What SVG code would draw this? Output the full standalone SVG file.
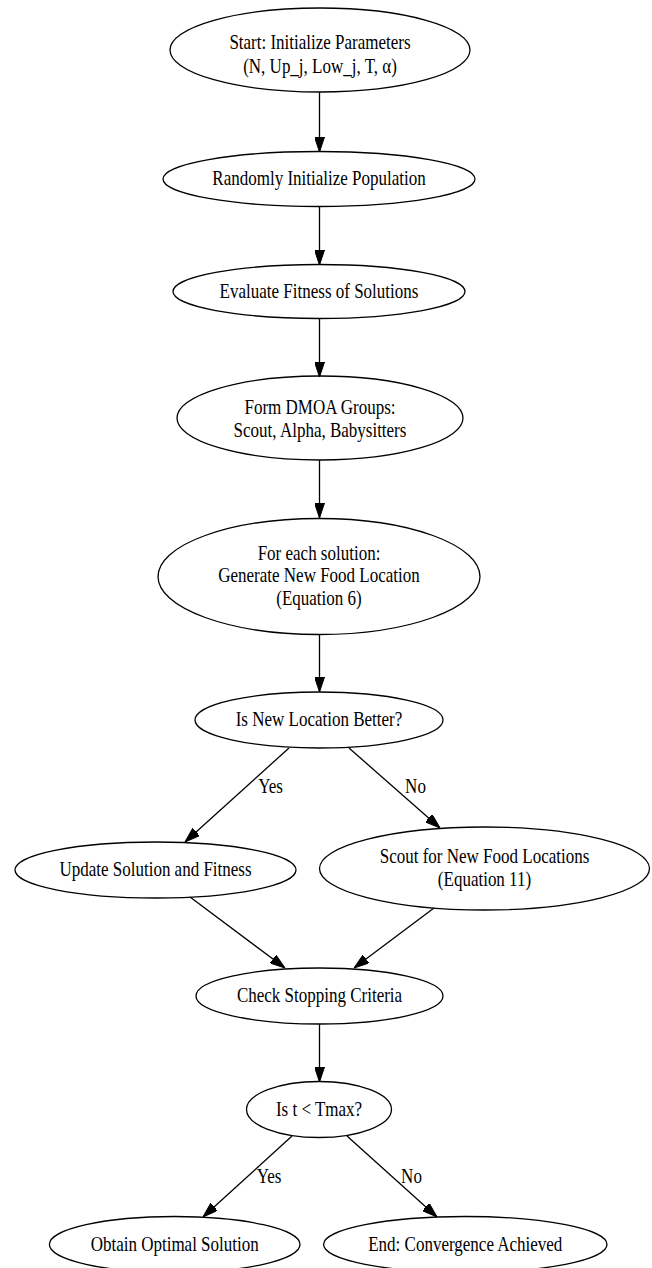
<svg xmlns="http://www.w3.org/2000/svg" width="652" height="1268" viewBox="0 0 652 1268">
<style>
.bg{fill:#fff}
.n ellipse{fill:none;stroke:#000;stroke-width:1.3}
.t{font-family:"Liberation Serif","Times New Roman",serif;font-size:21px;text-anchor:middle;fill:#000}
.e line{stroke:#000;stroke-width:1.3;marker-end:url(#ah)}
</style>
<defs>
<marker id="ah" viewBox="0 0 15 10" markerWidth="15" markerHeight="10" refX="15" refY="5" orient="auto" markerUnits="userSpaceOnUse">
<path d="M0,0 L15,5 L0,10 z" fill="#000" stroke="#000" stroke-width="1"/>
</marker>
</defs>
<rect class="bg" x="0" y="0" width="652" height="1268"/>
<g id="edges" class="e">
<line x1="319.5" y1="92" x2="319.5" y2="152"/>
<line x1="319.5" y1="207" x2="319.5" y2="265"/>
<line x1="319.5" y1="318" x2="319.5" y2="377"/>
<line x1="319.5" y1="460" x2="319.5" y2="518"/>
<line x1="319.5" y1="635" x2="319.5" y2="692"/>
<line x1="289" y1="748" x2="185" y2="842"/>
<line x1="349" y1="748" x2="440" y2="828"/>
<line x1="190" y1="897" x2="285" y2="968"/>
<line x1="434" y1="908" x2="354" y2="968"/>
<line x1="319.5" y1="1024" x2="319.5" y2="1082"/>
<line x1="292" y1="1136" x2="203" y2="1217"/>
<line x1="347" y1="1136" x2="437" y2="1217"/>
<text class="t" transform="translate(270.5,793) scale(0.81,1)">Yes</text>
<text class="t" transform="translate(415.5,793) scale(0.81,1)">No</text>
<text class="t" transform="translate(269,1183) scale(0.81,1)">Yes</text>
<text class="t" transform="translate(411.5,1183) scale(0.81,1)">No</text>
</g>
<g id="start" class="n">
<ellipse cx="320" cy="50" rx="150" ry="42"/>
<text class="t" transform="translate(320,49) scale(0.81,1)"><tspan x="0" y="0">Start: Initialize Parameters</tspan><tspan x="0" y="24">(N, Up_j, Low_j, T, α)</tspan></text>
</g>
<g id="init" class="n">
<ellipse cx="319" cy="179" rx="156" ry="27.5"/>
<text class="t" transform="translate(319,185) scale(0.81,1)">Randomly Initialize Population</text>
</g>
<g id="eval" class="n">
<ellipse cx="319" cy="291.5" rx="146" ry="27"/>
<text class="t" transform="translate(319,297.5) scale(0.81,1)">Evaluate Fitness of Solutions</text>
</g>
<g id="groups" class="n">
<ellipse cx="320" cy="418" rx="143" ry="42"/>
<text class="t" transform="translate(320,414) scale(0.81,1)"><tspan x="0" y="0">Form DMOA Groups:</tspan><tspan x="0" y="23">Scout, Alpha, Babysitters</tspan></text>
</g>
<g id="generate" class="n">
<ellipse cx="319" cy="576.5" rx="161" ry="58"/>
<text class="t" transform="translate(319,560) scale(0.81,1)"><tspan x="0" y="0">For each solution:</tspan><tspan x="0" y="22.5">Generate New Food Location</tspan><tspan x="0" y="45">(Equation 6)</tspan></text>
</g>
<g id="better" class="n">
<ellipse cx="319" cy="720" rx="124" ry="28"/>
<text class="t" transform="translate(319,726) scale(0.81,1)">Is New Location Better?</text>
</g>
<g id="update" class="n">
<ellipse cx="155.5" cy="870" rx="140.5" ry="28"/>
<text class="t" transform="translate(155.5,875.5) scale(0.81,1)">Update Solution and Fitness</text>
</g>
<g id="scout" class="n">
<ellipse cx="484.5" cy="868.5" rx="165" ry="41.5"/>
<text class="t" transform="translate(484.5,863) scale(0.81,1)"><tspan x="0" y="0">Scout for New Food Locations</tspan><tspan x="0" y="23.5">(Equation 11)</tspan></text>
</g>
<g id="check" class="n">
<ellipse cx="319.5" cy="996" rx="123.5" ry="28"/>
<text class="t" transform="translate(319.5,1002) scale(0.81,1)">Check Stopping Criteria</text>
</g>
<g id="tmax" class="n">
<ellipse cx="319" cy="1109.5" rx="72.5" ry="28"/>
<text class="t" transform="translate(319,1116) scale(0.81,1)">Is t &lt; Tmax?</text>
</g>
<g id="optimal" class="n">
<ellipse cx="174.7" cy="1244.5" rx="125.3" ry="28"/>
<text class="t" transform="translate(174.7,1250.5) scale(0.81,1)">Obtain Optimal Solution</text>
</g>
<g id="end" class="n">
<ellipse cx="465.3" cy="1244.5" rx="141.7" ry="28"/>
<text class="t" transform="translate(465.3,1250.5) scale(0.81,1)">End: Convergence Achieved</text>
</g>
</svg>
